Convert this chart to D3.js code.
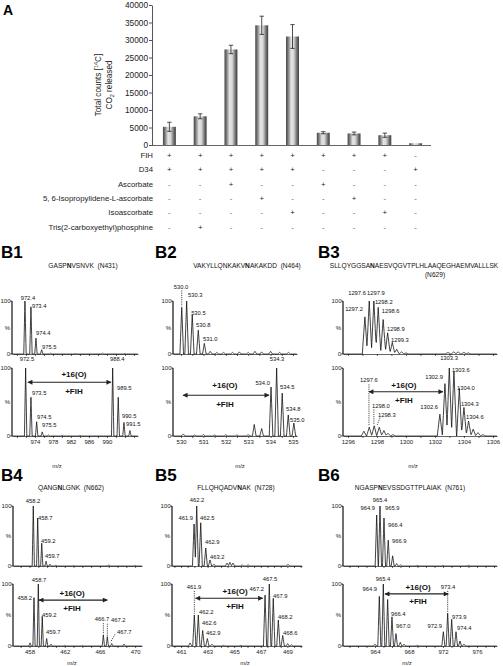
<!DOCTYPE html>
<html><head><meta charset="utf-8">
<script src="https://cdn.jsdelivr.net/npm/d3@7"></script>
<style>
body{margin:0;background:#fff}
svg{display:block;font-family:"Liberation Sans",Arial,Helvetica,sans-serif}
text{white-space:pre}
</style>
</head><body><svg id="c" width="503" height="666"></svg>
<script>
// ---------- Panel A data ----------
const conditions = ["c1","c2","c3","c4","c5","c6","c7","c8","c9"];
const barValues = [5200, 8200, 27300, 34200, 31000, 3500, 3300, 2800, 500];
const barErrors = [1300, 700, 1200, 2600, 3400, 300, 400, 600, 0];
const yTicksA = [0,5000,10000,15000,20000,25000,30000,35000,40000];
const tableLabels = ["FIH","D34","Ascorbate","5, 6-Isopropylidene-L-ascorbate","Isoascorbate","Tris(2-carboxyethyl)phosphine"];
const fihRow     = ["+","+","+","+","+","+","+","+","-"];
const d34Row     = ["+","+","+","+","+","-","-","-","+"];
const ascRow     = ["-","-","+","-","-","+","-","-","-"];
const isoPropRow = ["-","-","-","+","-","-","+","-","-"];
const isoAscRow  = ["-","-","-","-","+","-","-","+","-"];
const tcepRow    = ["-","+","-","-","-","-","-","-","-"];
const tableRows = [fihRow, d34Row, ascRow, isoPropRow, isoAscRow, tcepRow];

// ---------- Panel B data: peaks [m/z, %], labels [text, m/z, %, anchor] ----------
const b1Title = ["GASP","N","VSNVK  (N431)"];
const b1Ticks = [974, 978, 982, 986, 990];
const b1TopPeaks = [[971.78,100],[973.11,89],[974.22,30],[975.49,8],[977.5,1.5],[983,1],[989,1.5],[994,1]];
const b1TopLabels = [["972.4",972.44,106,"m"],["973.4",973.33,91,"s"],["974.4",974.22,40,"s"],["975.5",975.56,13,"s"]];
const b1BotPeaks = [[971.93,100],[973.11,57],[974.38,21],[975.62,6],[977,1.5],[980,1],[984,1],[991.27,100],[992.51,57],[993.78,20],[995.11,8]];
const b1BotLabels = [["972.5",972.22,113,"m"],["973.5",973.33,63,"s"],["974.5",974.44,28,"s"],["975.5",975.56,16,"s"],["988.4",990.67,113,"s"],["989.5",992.22,71,"s"],["990.5",993.33,29,"s"],["991.5",994.22,18,"s"]];
const b1Arrow = [972.44, 990.89, 79, 982.67, 91, 66];

const b2Title = ["VAKYLLQNKAKV","N","AKAKDD  (N464)"];
const b2Ticks = [530, 531, 532, 533, 534, 535];
const b2TopPeaks = [[530.03,88],[530.25,100],[530.5,74],[530.77,45],[531.04,20],[531.3,5],[531.6,3],[531.9,3],[532.3,3],[532.6,4],[533.0,3],[533.3,5],[533.6,4],[534.0,5],[534.4,3],[534.8,3]];
const b2TopLabels = [["530.0",530.0,126,"m"],["530.3",530.31,111,"s"],["530.5",530.45,77,"s"],["530.8",530.67,55,"s"],["531.0",530.98,28,"s"]];
const b2TopDotted = [[530.03,120,90]];
const b2BotPeaks = [[530.1,3],[530.6,1.5],[531.0,2],[531.5,1.5],[532.0,2],[532.5,1.5],[533.0,2],[533.27,17],[533.6,11],[534.02,72],[534.27,100],[534.52,63],[534.79,31],[535.04,19]];
const b2BotLabels = [["534.3",534.29,113,"m"],["534.0",533.97,78,"e"],["534.5",534.42,72,"s"],["534.8",534.69,40,"s"],["535.0",534.87,24,"s"]];
const b2Arrow = [530.09, 533.93, 60, 531.96, 74, 47];

const b3Title = ["SLLQYGGSA","N","AESVQGVTPLHLAAQEGHAEMVALLLSK"];
const b3Title2 = "(N629)";
const b3Ticks = [1296, 1298, 1300, 1302, 1304, 1306];
const b3TopPeaks = [[1297.17,70],[1297.47,100],[1297.79,100],[1298.09,88],[1298.43,65],[1298.74,40],[1299.06,22],[1299.36,9],[1299.7,4],[1300.0,2],[1302.9,3],[1303.3,4],[1303.6,4],[1304.0,3],[1304.3,2]];
const b3TopLabels = [["1297.2",1297.03,85,"e"],["1297.6",1297.24,115,"e"],["1297.9",1297.93,115,"m"],["1298.2",1297.86,98,"s"],["1298.6",1298.34,81,"s"],["1298.9",1298.69,47,"s"],["1299.3",1298.97,26,"s"]];
const b3BotPeaks = [[1297.1,7],[1297.47,13],[1297.81,15],[1298.16,13],[1298.48,8],[1298.76,4],[1299.1,2],[1302.34,32],[1302.69,77],[1302.99,100],[1303.31,95],[1303.68,70],[1304.0,42],[1304.32,22],[1304.64,10],[1304.97,5],[1305.31,2]];
const b3BotLabels = [["1303.3",1302.97,115,"m"],["1303.6",1303.17,97,"s"],["1302.9",1302.55,87,"e"],["1304.0",1303.52,71,"s"],["1302.6",1302.21,43,"e"],["1304.3",1303.79,47,"s"],["1304.6",1304.14,28,"s"],["1297.6",1297.45,82,"m"],["1298.0",1297.66,44,"s"],["1298.3",1298.07,31,"s"]];
const b3BotDotted = [[1297.45,76,16],[1297.79,39,17],[1298.21,27,15,1298.0]];
const b3Arrow = [1297.45, 1302.55, 65, 1299.86, 75, 53];

const b4Title = ["QANG","N","LGNK  (N662)"];
const b4Ticks = [458, 462, 466, 470];
const b4TopPeaks = [[458.43,100],[458.93,80],[459.39,38],[459.88,8],[460.33,3],[461,1.5],[463,1],[467,2],[470,1]];
const b4TopLabels = [["458.2",458.4,108,"m"],["458.7",458.97,80,"s"],["459.2",459.31,42,"s"],["459.7",459.76,17,"s"]];
const b4BotPeaks = [[458.06,5],[458.51,78],[459.0,100],[459.45,48],[459.95,12],[460.44,3],[462,1],[464,1],[466.39,18],[466.84,15],[467.34,4],[468.74,3]];
const b4BotLabels = [["458.7",459.08,106,"m"],["458.2",458.28,77,"e"],["459.2",459.42,50,"s"],["459.7",459.88,23,"s"],["466.7",466.24,44,"m"],["467.2",467.26,42,"s"],["467.7",467.95,23,"s"]];
const b4BotDotted = [[466.39,37,19],[466.84,36,16],[467.72,19,6,467.2]];
const b4Arrow = [459.08, 466.84, 74, 462.83, 85, 61];

const b5Title = ["FLLQHQADV","N","AK  (N728)"];
const b5Ticks = [461, 463, 465, 467, 469];
const b5TopPeaks = [[461.98,70],[462.18,100],[462.48,72],[462.86,30],[463.18,10],[463.48,3],[464.46,5],[464.68,6],[464.91,5],[465.59,2],[466.04,2],[469.05,3]];
const b5TopLabels = [["462.2",462.2,110,"m"],["461.9",461.9,80,"e"],["462.5",462.43,80,"s"],["462.9",462.8,40,"s"],["463.2",463.18,15,"s"]];
const b5BotPeaks = [[461.68,5],[462.0,50],[462.3,50],[462.63,25],[462.98,12],[463.33,3],[464.2,1],[465.5,1],[467.32,82],[467.64,100],[467.94,77],[468.32,42],[468.65,17],[469.02,4],[469.32,2]];
const b5BotLabels = [["461.9",461.98,95,"m"],["462.2",462.35,55,"s"],["462.6",462.58,37,"s"],["462.9",462.88,21,"s"],["467.5",467.69,108,"m"],["467.2",467.24,92,"e"],["467.9",467.92,81,"s"],["468.2",468.29,47,"s"],["468.6",468.67,21,"s"]];
const b5BotDotted = [[462.0,89,52]];
const b5Arrow = [462.1, 467.14, 77, 465.06, 89, 65];

const b6Title = ["NGASP","N","EVSSDGTTPLAIAK  (N761)"];
const b6Ticks = [964, 968, 972, 976];
const b6TopPeaks = [[964.2,85],[964.59,100],[965.06,80],[965.56,43],[966.08,17],[966.55,4],[967.02,2],[969,1],[972,1],[975,1]];
const b6TopLabels = [["965.4",964.59,110,"m"],["964.9",964.0,97,"e"],["965.9",965.18,97,"s"],["966.4",965.53,68,"s"],["966.9",966.0,42,"s"]];
const b6BotPeaks = [[964.0,3],[964.51,80],[964.98,100],[965.49,75],[966.0,47],[966.47,20],[966.98,6],[967.41,3],[969,1],[972.04,23],[972.55,53],[973.02,43],[973.53,23],[974.0,8],[974.47,3]];
const b6BotLabels = [["965.4",964.94,108,"m"],["964.9",964.24,92,"e"],["966.4",965.88,52,"s"],["967.0",966.47,32,"s"],["972.9",971.88,32,"e"],["973.4",972.59,95,"m"],["973.9",973.06,47,"s"],["974.4",973.65,29,"s"]];
const b6BotDotted = [[972.55,89,55]];
const b6Arrow = [965.18, 972.62, 84, 969.06, 95, 73];

// ---------- drawing ----------
const svg = d3.select("#c");
const defs = svg.append("defs");
const grad = defs.append("linearGradient").attr("id","barGrad").attr("x1",0).attr("x2",1).attr("y1",0).attr("y2",0);
[[0,"#444"],[0.15,"#777"],[0.4,"#e6e6e6"],[0.6,"#d6d6d6"],[0.85,"#6c6c6c"],[1,"#3c3c3c"]]
  .forEach(s => grad.append("stop").attr("offset", s[0]).attr("stop-color", s[1]));
defs.append("marker").attr("id","ah").attr("viewBox","0 0 10 10").attr("refX",9).attr("refY",5)
  .attr("markerUnits","userSpaceOnUse").attr("markerWidth",6).attr("markerHeight",5)
  .attr("orient","auto-start-reverse")
  .append("path").attr("d","M0,0L10,5L0,10z").attr("fill","#222");

// Panel A
svg.append("text").attr("x",3).attr("y",15).attr("font-size",14).attr("font-weight","bold").text("A");
const xA = d3.scaleBand().domain(conditions).range([154, 431]).paddingInner(0.58).paddingOuter(0.29);
const yA = d3.scaleLinear().domain([0, 40000]).range([145, 5]);
const gyA = svg.append("g").attr("transform","translate(152,0)")
  .call(d3.axisLeft(yA).tickValues(yTicksA).tickSize(3).tickSizeOuter(0).tickPadding(1).tickFormat(d3.format("d")));
gyA.selectAll("text").attr("font-size",8.3).attr("fill","#222").style("font-family","inherit");
gyA.selectAll("line,path").attr("stroke","#555");
const gxA = svg.append("g").attr("transform","translate(0,145)")
  .call(d3.axisBottom(xA).tickSize(0).tickSizeOuter(0).tickFormat(""));
gxA.select("path").attr("stroke","#666").attr("d","M152,0.5H431");
svg.append("g").selectAll("rect").data(conditions).join("rect")
  .attr("x", d => xA(d)).attr("width", xA.bandwidth())
  .attr("y", (d,i) => yA(barValues[i])).attr("height", (d,i) => yA(0) - yA(barValues[i]))
  .attr("fill","url(#barGrad)");
const eb = svg.append("g").attr("stroke","#222").attr("stroke-width",0.8);
conditions.forEach((d,i) => {
  if (!barErrors[i]) return;
  const cx = xA(d) + xA.bandwidth()/2;
  const lo = yA(barValues[i]-barErrors[i]), hi = yA(barValues[i]+barErrors[i]);
  eb.append("line").attr("x1",cx).attr("x2",cx).attr("y1",lo).attr("y2",hi);
  eb.append("line").attr("x1",cx-2.2).attr("x2",cx+2.2).attr("y1",lo).attr("y2",lo);
  eb.append("line").attr("x1",cx-2.2).attr("x2",cx+2.2).attr("y1",hi).attr("y2",hi);
});
const ylab = svg.append("g").attr("font-size",8.2).attr("fill","#222").attr("text-anchor","middle");
const t1 = ylab.append("text").attr("transform","translate(101,85) rotate(-90)");
t1.append("tspan").text("Total counts [");
t1.append("tspan").attr("font-size",5.5).attr("dy",-3).text("14");
t1.append("tspan").attr("dy",3).text("C]");
const t2 = ylab.append("text").attr("transform","translate(112,85) rotate(-90)");
t2.append("tspan").text("CO");
t2.append("tspan").attr("font-size",5.5).attr("dy",2).text("2");
t2.append("tspan").attr("dy",-2).text(" released");

const yRows = d3.scalePoint().domain(tableLabels).range([155, 227]);
const tg = svg.append("g").attr("font-size",7.8).attr("fill","#222");
tableLabels.forEach((lab, r) => {
  tg.append("text").attr("x",153).attr("y",yRows(lab)+2.8).attr("text-anchor","end").text(lab);
  tableRows[r].forEach((m, i) => {
    tg.append("text").attr("x", xA(conditions[i]) + xA.bandwidth()/2).attr("y", yRows(lab)+2.8)
      .attr("text-anchor","middle").attr("fill", m === "+" ? "#222" : "#666").text(m);
  });
});

// Spectra
const anchorMap = {m:"middle", s:"start", e:"end"};
function drawPlot(g, x, cfg, plot, ticksLabelled) {
  const y = d3.scaleLinear().domain([0,100]).range([plot.y0, plot.y100]);
  const hwMz = x.invert(cfg.x0 + cfg.hw) - x.invert(cfg.x0);
  let xs = d3.range(cfg.domain[0], cfg.domain[1], hwMz/5);
  plot.peaks.forEach(p => xs.push(p[0], p[0]-hwMz, p[0]+hwMz));
  xs = xs.filter(m => m >= cfg.domain[0] && m <= cfg.domain[1]).sort(d3.ascending);
  const prof = xs.map(m => [m, d3.max(plot.peaks, p => p[1]*Math.max(0, 1 - Math.abs(m-p[0])/hwMz))]);
  const tv = d3.range(cfg.tickStart, cfg.domain[1] + 1e-9, cfg.minor);
  const ax = g.append("g").attr("transform",`translate(0,${plot.y0})`)
    .call(d3.axisBottom(x).tickValues(tv).tickSize(2).tickSizeOuter(0).tickPadding(2)
      .tickFormat(d => ticksLabelled && cfg.ticks.some(t => Math.abs(t-d) < 1e-6) ? d3.format("d")(d) : ""));
  ax.selectAll("text").attr("font-size",6).attr("fill","#222").style("font-family","inherit");
  ax.selectAll("line,path").attr("stroke","#222").attr("stroke-width",0.7);
  g.append("line").attr("x1",cfg.x0).attr("x2",cfg.x0).attr("y1",y(0)).attr("y2",y(100)).attr("stroke","#111").attr("stroke-width",1.2);
  [0,100].forEach(v => g.append("line").attr("x1",cfg.x0-2).attr("x2",cfg.x0).attr("y1",y(v)).attr("y2",y(v)).attr("stroke","#111").attr("stroke-width",0.7));
  const yl = g.append("g").attr("font-size",6).attr("fill","#222").attr("text-anchor","end");
  yl.append("text").attr("x",cfg.x0-1.5).attr("y",y(100)+2).text("100");
  yl.append("text").attr("x",cfg.x0-2).attr("y",y(50)+2).text("%");
  yl.append("text").attr("x",cfg.x0-2).attr("y",y(0)+2).text("0");
  g.append("path").datum(prof).attr("fill","none").attr("stroke","#111").attr("stroke-width",0.8)
    .attr("stroke-linejoin","miter")
    .attr("d", d3.line().x(d => x(d[0])).y(d => y(d[1])));
  const lg = g.append("g").attr("font-size",5.8).attr("fill","#111");
  plot.labels.forEach(l => lg.append("text").attr("x", x(l[1])).attr("y", y(l[2])).attr("dy","0.35em")
    .attr("text-anchor", anchorMap[l[3]]).text(l[0]));
  (plot.dotted || []).forEach(d => g.append("line")
    .attr("x1", x(d[0])).attr("y1", y(d[1])).attr("x2", x(d.length > 3 ? d[3] : d[0])).attr("y2", y(d[2]))
    .attr("stroke","#222").attr("stroke-width",0.8).attr("stroke-dasharray","1.2,1"));
  if (plot.arrow) {
    const a = plot.arrow;
    g.append("line").attr("x1", x(a[0])).attr("x2", x(a[1])).attr("y1", y(a[2])).attr("y2", y(a[2]))
      .attr("stroke","#222").attr("stroke-width",1.1)
      .attr("marker-start","url(#ah)").attr("marker-end","url(#ah)");
    const at = g.append("g").attr("font-size",8).attr("font-weight","bold").attr("text-anchor","middle").attr("fill","#111");
    at.append("text").attr("x", x(a[3])).attr("y", y(a[4])).attr("dy","0.35em").text("+16(O)");
    at.append("text").attr("x", x(a[3])).attr("y", y(a[5])).attr("dy","0.35em").text("+FIH");
  }
}

function drawPanel(cfg) {
  const g = svg.append("g");
  const x = d3.scaleLinear().domain(cfg.domain).range([cfg.x0, cfg.x1]);
  g.append("text").attr("x", cfg.lx).attr("y", cfg.ly).attr("font-size",17).attr("font-weight","bold").text(cfg.name);
  const t = g.append("text").attr("x", cfg.tx).attr("y", cfg.ty).attr("text-anchor","middle").attr("font-size",6.6).attr("fill","#111");
  cfg.title.forEach((s,i) => t.append("tspan").attr("font-weight", i === 1 ? "bold" : null).text(s));
  if (cfg.title2) g.append("text").attr("x", cfg.tx2).attr("y", cfg.ty + 9).attr("text-anchor","middle").attr("font-size",6.6).attr("fill","#111").text(cfg.title2);
  drawPlot(g, x, cfg, cfg.top, false);
  drawPlot(g, x, cfg, cfg.bot, true);
  g.append("text").attr("x", cfg.mzx).attr("y", cfg.mzy).attr("text-anchor","middle").attr("font-size",6).attr("fill","#222").text("m/z");
}

const row1 = {topY0:354, topY100:301, botY0:436, botY100:368, ly:258, ty:268, mzy:468};
const row2 = {topY0:566, topY100:506, botY0:646, botY100:584, ly:481, ty:490, mzy:665};
function mk(o, row, tp, tl, td, bp, bl, bd, arr) {
  return Object.assign(o, {ly: row.ly, ty: row.ty, mzy: row.mzy,
    top: {y0: row.topY0, y100: row.topY100, peaks: tp, labels: tl, dotted: td},
    bot: {y0: row.botY0, y100: row.botY100, peaks: bp, labels: bl, dotted: bd, arrow: arr}});
}
const panels = [
  mk({name:"B1", lx:1, tx:83, title:b1Title, x0:12, x1:138, domain:[968.9,996.9], hw:1.2, ticks:b1Ticks, tickStart:970, minor:2, mzx:57},
     row1, b1TopPeaks, b1TopLabels, [], b1BotPeaks, b1BotLabels, [], b1Arrow),
  mk({name:"B2", lx:155, tx:247, title:b2Title, x0:173, x1:297, domain:[529.64,535.18], hw:1.8, ticks:b2Ticks, tickStart:530, minor:0.5, mzx:240},
     row1, b2TopPeaks, b2TopLabels, b2TopDotted, b2BotPeaks, b2BotLabels, [], b2Arrow),
  mk({name:"B3", lx:318, tx:414, title:b3Title, title2:b3Title2, tx2:435, x0:343, x1:497, domain:[1295.66,1306.28], hw:2.6, ticks:b3Ticks, tickStart:1296, minor:1, mzx:413},
     row1, b3TopPeaks, b3TopLabels, [], b3BotPeaks, b3BotLabels, b3BotDotted, b3Arrow),
  mk({name:"B4", lx:1, tx:71, title:b4Title, x0:13, x1:142, domain:[456.125,470.78], hw:1.1, ticks:b4Ticks, tickStart:457, minor:1, mzx:72},
     row2, b4TopPeaks, b4TopLabels, [], b4BotPeaks, b4BotLabels, b4BotDotted, b4Arrow),
  mk({name:"B5", lx:155, tx:236, title:b5Title, x0:172, x1:302, domain:[460.32,470.1], hw:1.6, ticks:b5Ticks, tickStart:460.5, minor:0.5, mzx:245},
     row2, b5TopPeaks, b5TopLabels, [], b5BotPeaks, b5BotLabels, b5BotDotted, b5Arrow),
  mk({name:"B6", lx:318, tx:410, title:b6Title, x0:343, x1:497, domain:[960.24,978.35], hw:1.5, ticks:b6Ticks, tickStart:961, minor:1, mzx:407},
     row2, b6TopPeaks, b6TopLabels, [], b6BotPeaks, b6BotLabels, b6BotDotted, b6Arrow)
];
panels.forEach(drawPanel);
</script>
</body></html>
